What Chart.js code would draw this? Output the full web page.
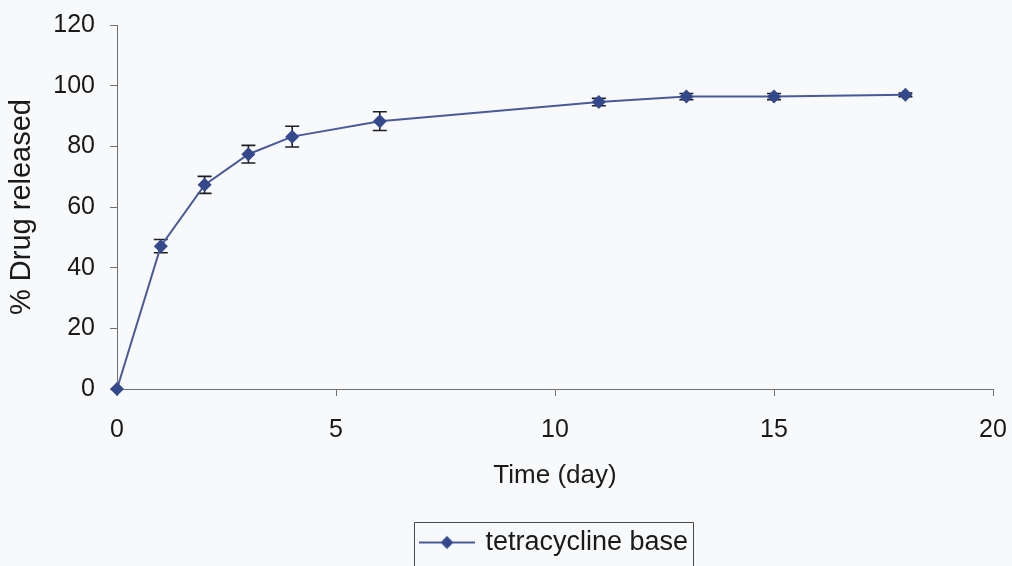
<!DOCTYPE html>
<html>
<head>
<meta charset="utf-8">
<script src="https://cdn.jsdelivr.net/npm/chart.js@4"></script>
<style>
html,body{margin:0;padding:0;background:#f8f9fb;overflow:hidden;}
#wrap{width:1012px;height:566px;}
</style>
</head>
<body>
<div id="wrap"><canvas id="c" width="1012" height="566"></canvas></div>
<script>
const days = [0, 1, 2, 3, 4, 6, 11, 13, 15, 18];
const released = [0, 47.1, 67.3, 77.4, 83.2, 88.3, 94.6, 96.4, 96.4, 97.0];
const errors = [0, 2.2, 2.8, 2.9, 3.4, 3.1, 1.2, 1.0, 1.0, 0.6];
const seriesName = 'tetracycline base';
const xTitle = 'Time (day)';
const yTitle = '% Drug released';

const FONT = "'Liberation Sans', Arial, sans-serif";
const lineColor = '#4a5a98';
const markColor = '#34488c';

const legImg = document.createElement('canvas');
legImg.width = 56; legImg.height = 16;
(function(){
  const g = legImg.getContext('2d');
  g.strokeStyle = lineColor; g.lineWidth = 2;
  g.beginPath(); g.moveTo(0, 8); g.lineTo(56, 8); g.stroke();
  g.fillStyle = markColor;
  g.beginPath(); g.moveTo(28, 1.5); g.lineTo(34.5, 8); g.lineTo(28, 14.5); g.lineTo(21.5, 8); g.closePath(); g.fill();
})();

const bgPlugin = {
  id: 'bg',
  beforeDraw(chart) {
    const ctx = chart.ctx;
    ctx.save(); ctx.fillStyle = '#f8f9fb'; ctx.fillRect(0, 0, chart.width, chart.height); ctx.restore();
  }
};

const errPlugin = {
  id: 'errbars',
  beforeDatasetsDraw(chart) {
    const ctx = chart.ctx, xs = chart.scales.x, ys = chart.scales.y;
    ctx.save();
    ctx.strokeStyle = '#1e1e24'; ctx.lineWidth = 1.6;
    days.forEach((d, i) => {
      const e = errors[i];
      if (!e) return;
      const px = xs.getPixelForValue(d);
      const top = ys.getPixelForValue(released[i] + e);
      const bot = ys.getPixelForValue(released[i] - e);
      ctx.beginPath();
      ctx.moveTo(px, top); ctx.lineTo(px, bot);
      ctx.moveTo(px - 7, top); ctx.lineTo(px + 7, top);
      ctx.moveTo(px - 7, bot); ctx.lineTo(px + 7, bot);
      ctx.stroke();
    });
    ctx.restore();
  }
};

const legendBoxPlugin = {
  id: 'legbox',
  afterDraw(chart) {
    const lg = chart.legend;
    if (!lg || !lg.legendHitBoxes || !lg.legendHitBoxes.length) return;
    const h = lg.legendHitBoxes[0];
    const ctx = chart.ctx;
    ctx.save();
    ctx.strokeStyle = '#4a4a4a'; ctx.lineWidth = 1;
    const l = Math.round(h.left - 8) + 0.5, r = Math.round(h.left + h.width + 5) + 0.5, t = Math.round(lg.top) + 0.5;
    ctx.beginPath();
    ctx.moveTo(l, chart.height + 2); ctx.lineTo(l, t); ctx.lineTo(r, t); ctx.lineTo(r, chart.height + 2);
    ctx.stroke();
    ctx.restore();
  }
};

new Chart(document.getElementById('c'), {
  type: 'line',
  data: {
    datasets: [{
      label: seriesName,
      data: days.map((d, i) => ({x: d, y: released[i]})),
      borderColor: lineColor,
      borderWidth: 2,
      backgroundColor: markColor,
      pointStyle: 'rectRot',
      pointRadius: 7,
      pointBackgroundColor: markColor,
      pointBorderColor: markColor,
      pointBorderWidth: 0,
      tension: 0,
      fill: false,
      clip: false
    }]
  },
  options: {
    responsive: false,
    animation: false,
    layout: { padding: { top: 25, right: 19, left: 0, bottom: 0 } },
    plugins: {
      legend: {
        display: true,
        position: 'bottom',
        fullSize: false,
        labels: {
          usePointStyle: true,
          pointStyle: legImg,
          pointStyleWidth: 50,
          boxHeight: 16,
          padding: 7,
          color: '#1a1a1a',
          font: { family: FONT, size: 27 },
          generateLabels(chart) {
            return [{ text: seriesName, pointStyle: legImg, fillStyle: markColor, strokeStyle: lineColor, lineWidth: 0, datasetIndex: 0, fontColor: '#1a1a1a' }];
          }
        }
      },
      tooltip: { enabled: false }
    },
    scales: {
      x: {
        type: 'linear',
        min: 0, max: 20,
        ticks: { stepSize: 5, color: '#1a1a1a', font: { family: FONT, size: 25 }, padding: 19, maxRotation: 0 },
        grid: { drawOnChartArea: false, drawTicks: true, tickLength: 7, color: '#707070', tickWidth: 1 },
        border: { color: '#707070', width: 1 },
        title: { display: true, text: xTitle, color: '#1a1a1a', font: { family: FONT, size: 26 }, padding: { top: 0, bottom: 31 } },
        afterFit(s) { s.height = 133; s.paddingLeft = 0; s.paddingRight = 0; }
      },
      y: {
        min: 0, max: 120,
        ticks: { stepSize: 20, color: '#1a1a1a', font: { family: FONT, size: 25 }, padding: 15 },
        grid: { drawOnChartArea: false, drawTicks: true, tickLength: 7, color: '#707070', tickWidth: 1 },
        border: { color: '#707070', width: 1 },
        title: { display: true, text: yTitle, color: '#1a1a1a', font: { family: FONT, size: 29 }, padding: { top: 5, bottom: 0 } },
        afterFit(s) { s.width = 117; s.paddingTop = 0; s.paddingBottom = 0; }
      }
    }
  },
  plugins: [bgPlugin, errPlugin, legendBoxPlugin]
});
</script>
</body>
</html>
